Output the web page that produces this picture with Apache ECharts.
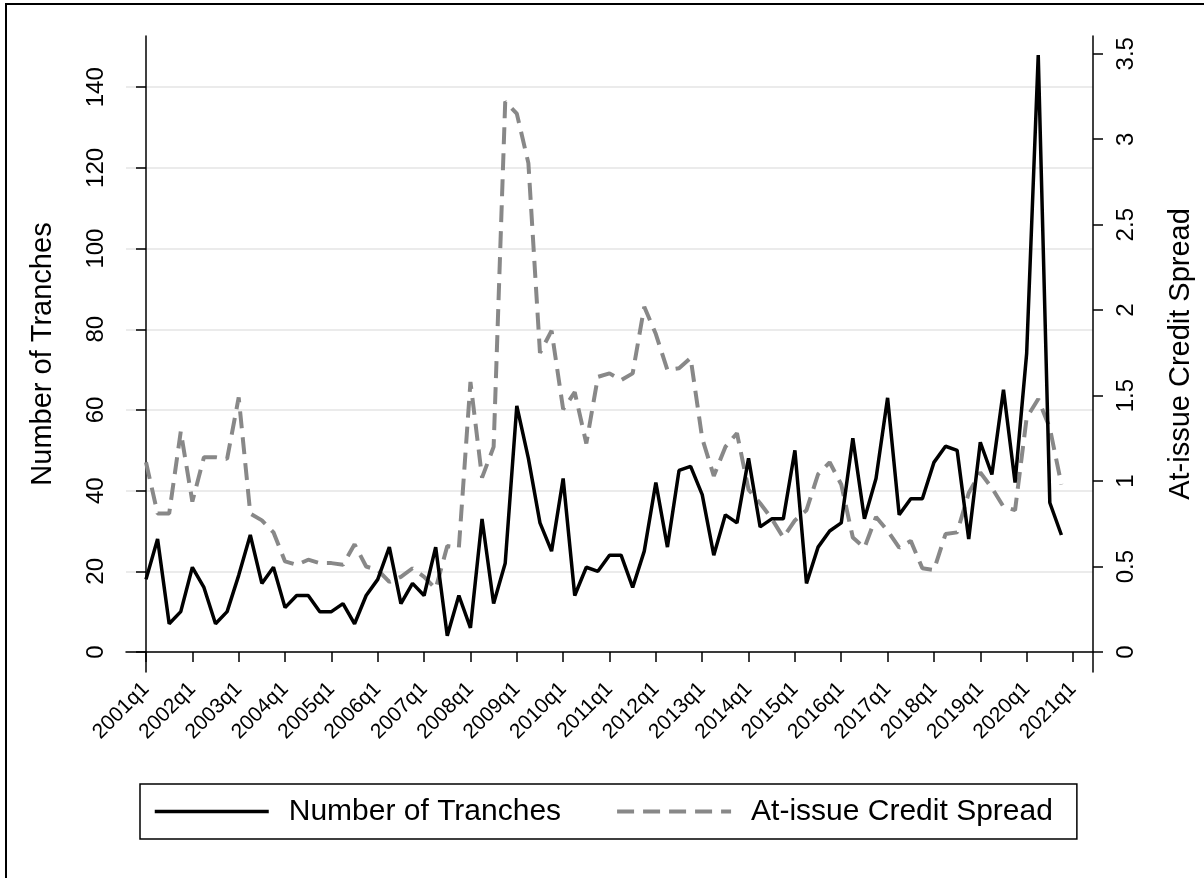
<!DOCTYPE html>
<html>
<head>
<meta charset="utf-8">
<title>Tranches and credit spread</title>
<script src="https://cdn.jsdelivr.net/npm/echarts@6/dist/echarts.min.js"></script>
<style>
  html, body { margin: 0; padding: 0; background: #fff; }
  #chart { width: 1204px; height: 878px; }
</style>
</head>
<body>
<div id="chart"></div>
<script>
// quarters counted from 2001q1 (index 0) to 2020q4 (index 79)
const quarterIdx = Array.from({ length: 80 }, (_, i) => i);

// number of tranches per quarter (left axis)
const tranches = [
  18, 28, 7, 10, 21, 16, 7, 10, 19, 29, 17, 21, 11, 14, 14, 10, 10, 12, 7, 14,
  18, 26, 12, 17, 14, 26, 4, 14, 6, 33, 12, 22, 61, 48, 32, 25, 43, 14, 21, 20,
  24, 24, 16, 25, 42, 26, 45, 46, 39, 24, 34, 32, 48, 31, 33, 33, 50, 17, 26, 30,
  32, 53, 33, 43, 63, 34, 38, 38, 47, 51, 50, 28, 52, 44, 65, 42, 74, 148, 37, 29
];

// at-issue credit spread per quarter (right axis)
const spread = [
  1.11, 0.81, 0.81, 1.29, 0.88, 1.14, 1.14, 1.13, 1.49, 0.81, 0.77, 0.70, 0.53, 0.51, 0.54, 0.52, 0.52, 0.51, 0.63, 0.50,
  0.48, 0.41, 0.44, 0.49, 0.44, 0.37, 0.62, 0.61, 1.58, 1.02, 1.20, 3.22, 3.15, 2.86, 1.75, 1.88, 1.42, 1.52, 1.22, 1.61,
  1.63, 1.59, 1.63, 2.02, 1.86, 1.65, 1.66, 1.72, 1.25, 1.03, 1.20, 1.28, 0.95, 0.87, 0.78, 0.67, 0.77, 0.83, 1.04, 1.11,
  0.98, 0.67, 0.61, 0.79, 0.71, 0.61, 0.65, 0.49, 0.48, 0.69, 0.70, 0.93, 1.05, 0.96, 0.85, 0.83, 1.37, 1.48, 1.31, 0.98
];

// tick positions
const xTicks = [0, 4, 8, 12, 16, 20, 24, 28, 32, 36, 40, 44, 48, 52, 56, 60, 64, 68, 72, 76, 80];
const leftTicks = [0, 20, 40, 60, 80, 100, 120, 140];
const rightTicks = [0, 0.5, 1, 1.5, 2, 2.5, 3, 3.5];

const FONT = '"Liberation Sans", Arial, sans-serif';

const chart = echarts.init(document.getElementById('chart'));

const axisLine = { show: true, lineStyle: { color: '#000', width: 1.5 } };
const axisTick = (vals) => ({ show: true, length: 10, customValues: vals, lineStyle: { color: '#000', width: 1.5 } });

chart.setOption({
  backgroundColor: '#fff',
  animation: false,
  textStyle: { fontFamily: FONT },
  grid: { left: 126, right: 111, top: 36, bottom: 206 },
  graphic: [
    { type: 'rect', shape: { x: 6, y: 4, width: 1300, height: 1000 },
      style: { fill: 'none', stroke: '#000', lineWidth: 2 }, silent: true }
  ],
  legend: {
    left: 140, top: 784,
    orient: 'horizontal',
    itemWidth: 114, itemHeight: 14, itemGap: 54,
    padding: [11, 24, 11, 13],
    borderColor: '#000', borderWidth: 1.5,
    itemStyle: { opacity: 0 },
    textStyle: { fontSize: 30, color: '#000', fontFamily: FONT, lineHeight: 33, padding: [0, 0, 0, 15] },
    data: [
      { name: 'Number of Tranches', lineStyle: { width: 3.5, color: '#000' } },
      { name: 'At-issue Credit Spread', lineStyle: { width: 4, color: '#888', type: [17, 9] } }
    ]
  },
  xAxis: {
    type: 'value',
    min: -1.726, max: 81.726,
    axisLine: axisLine,
    axisTick: axisTick(xTicks),
    splitLine: { show: false },
    axisLabel: {
      customValues: xTicks,
      rotate: 45, margin: 14, fontSize: 21, color: '#000', fontFamily: FONT,
      formatter: v => (2001 + Math.round(v) / 4) + 'q1'
    }
  },
  yAxis: [
    {
      type: 'value', position: 'left',
      min: -4.96, max: 152.7,
      name: 'Number of Tranches', nameLocation: 'middle', nameRotate: 90, nameGap: 69,
      nameTextStyle: { fontSize: 29, color: '#000', fontFamily: FONT },
      axisLine: axisLine,
      axisTick: axisTick(leftTicks),
      axisLabel: { customValues: leftTicks, rotate: 90, margin: 18, fontSize: 24, color: '#000', fontFamily: FONT },
      splitLine: { show: true, lineStyle: { color: '#ebebeb', width: 2 } }
    },
    {
      type: 'value', position: 'right',
      min: -0.117, max: 3.604,
      name: 'At-issue Credit Spread', nameLocation: 'middle', nameRotate: 90, nameGap: 73,
      nameTextStyle: { fontSize: 29, color: '#000', fontFamily: FONT },
      axisLine: axisLine,
      axisTick: axisTick(rightTicks),
      axisLabel: { customValues: rightTicks, rotate: 90, margin: 21, fontSize: 24, color: '#000', fontFamily: FONT,
        formatter: v => String(v) },
      splitLine: { show: false }
    }
  ],
  series: [
    {
      name: 'Number of Tranches', type: 'line', yAxisIndex: 0,
      data: quarterIdx.map((q, i) => [q, tranches[i]]),
      showSymbol: false, symbol: 'none',
      lineStyle: { color: '#000', width: 3.5 },
      itemStyle: { color: '#000' },
      z: 3
    },
    {
      name: 'At-issue Credit Spread', type: 'line', yAxisIndex: 1,
      data: quarterIdx.map((q, i) => [q, spread[i]]),
      showSymbol: false, symbol: 'none',
      lineStyle: { color: '#888', width: 4, type: [17, 9] },
      itemStyle: { color: '#888' },
      z: 2
    }
  ]
});
</script>
</body>
</html>
